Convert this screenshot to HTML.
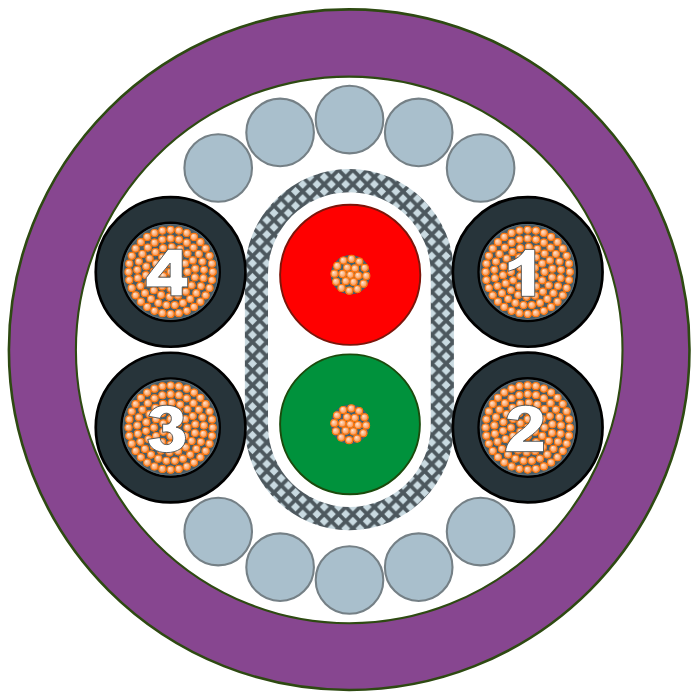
<!DOCTYPE html><html><head><meta charset="utf-8"><style>html,body{margin:0;padding:0;background:#fff}svg{display:block}</style></head><body>
<svg width="699" height="700" viewBox="0 0 699 700">
<defs>
<radialGradient id="ball" cx="0.46" cy="0.44" r="0.58" fx="0.34" fy="0.30">
<stop offset="0" stop-color="#fff0e2"/><stop offset="0.22" stop-color="#fed4b4"/><stop offset="0.6" stop-color="#fcb686"/><stop offset="0.9" stop-color="#fb9c58"/><stop offset="1" stop-color="#f98632"/>
</radialGradient>
<g id="b"><circle r="4.1" fill="#ff8a22"/><circle r="3.78" fill="#f96c00"/><circle r="3.15" fill="url(#ball)"/></g>
<pattern id="hatch" patternUnits="userSpaceOnUse" x="245.33" y="270.33" width="14.34" height="14.34">
<rect width="14.34" height="14.34" fill="#4d585e"/>
<path fill="#c9dae1" d="M2.67,7.17 L7.17,2.67 L11.67,7.17 L7.17,11.67Z M-4.5,0 L0,-4.5 L4.5,0 L0,4.5Z M9.84,0 L14.34,-4.5 L18.84,0 L14.34,4.5Z M-4.5,14.34 L0,9.84 L4.5,14.34 L0,18.84Z M9.84,14.34 L14.34,9.84 L18.84,14.34 L14.34,18.84Z"/>
</pattern>
</defs>
<rect width="699" height="700" fill="#fff"/>
<circle cx="349.2" cy="349.7" r="340.3" fill="#874690" stroke="#2e4a12" stroke-width="2.6"/>
<circle cx="349.2" cy="349.9" r="273.3" fill="#fff" stroke="#2e4a12" stroke-width="2.1"/>
<circle cx="218.2" cy="168.0" r="33.8" fill="#a9bfcc" stroke="#758086" stroke-width="2.1"/>
<circle cx="218.2" cy="531.6" r="33.8" fill="#a9bfcc" stroke="#758086" stroke-width="2.1"/>
<circle cx="480.6" cy="168.0" r="33.8" fill="#a9bfcc" stroke="#758086" stroke-width="2.1"/>
<circle cx="480.6" cy="531.6" r="33.8" fill="#a9bfcc" stroke="#758086" stroke-width="2.1"/>
<circle cx="280.1" cy="132.4" r="33.8" fill="#a9bfcc" stroke="#758086" stroke-width="2.1"/>
<circle cx="280.1" cy="567.2" r="33.8" fill="#a9bfcc" stroke="#758086" stroke-width="2.1"/>
<circle cx="418.7" cy="132.4" r="33.8" fill="#a9bfcc" stroke="#758086" stroke-width="2.1"/>
<circle cx="418.7" cy="567.2" r="33.8" fill="#a9bfcc" stroke="#758086" stroke-width="2.1"/>
<circle cx="349.5" cy="119.6" r="33.8" fill="#a9bfcc" stroke="#758086" stroke-width="2.1"/>
<circle cx="349.5" cy="580.0" r="33.8" fill="#a9bfcc" stroke="#758086" stroke-width="2.1"/>
<path d="M244.89999999999998,273.6 A104.5,104.5 0 0 1 453.9,273.6 L453.9,425.7 A104.5,104.5 0 0 1 244.89999999999998,425.7 Z M268.0,273.6 A81.4,81.4 0 0 1 430.79999999999995,273.6 L430.79999999999995,425.7 A81.4,81.4 0 0 1 268.0,425.7 Z" fill-rule="evenodd" fill="url(#hatch)"/>
<circle cx="350.2" cy="274.8" r="70.1" fill="#ff0000" stroke="#7c150a" stroke-width="1.9"/>
<circle cx="350.4" cy="274.8" r="19.7" fill="#3f5f70"/>
<g>
<use href="#b" x="350.40" y="274.80"/>
<use href="#b" x="358.26" y="275.63"/>
<use href="#b" x="353.61" y="282.02"/>
<use href="#b" x="345.76" y="281.19"/>
<use href="#b" x="342.54" y="273.97"/>
<use href="#b" x="347.19" y="267.58"/>
<use href="#b" x="355.04" y="268.41"/>
<use href="#b" x="366.26" y="275.91"/>
<use href="#b" x="363.58" y="283.69"/>
<use href="#b" x="357.37" y="289.09"/>
<use href="#b" x="349.29" y="290.66"/>
<use href="#b" x="341.51" y="287.98"/>
<use href="#b" x="336.11" y="281.77"/>
<use href="#b" x="334.54" y="273.69"/>
<use href="#b" x="337.22" y="265.91"/>
<use href="#b" x="343.43" y="260.51"/>
<use href="#b" x="351.51" y="258.94"/>
<use href="#b" x="359.29" y="261.62"/>
<use href="#b" x="364.69" y="267.83"/>
</g>
<circle cx="350.0" cy="424.3" r="69.9" fill="#00923c" stroke="#1b4a0c" stroke-width="1.9"/>
<circle cx="350.2" cy="424.3" r="19.7" fill="#3f5f70"/>
<g>
<use href="#b" x="350.20" y="424.30"/>
<use href="#b" x="358.06" y="425.13"/>
<use href="#b" x="353.41" y="431.52"/>
<use href="#b" x="345.56" y="430.69"/>
<use href="#b" x="342.34" y="423.47"/>
<use href="#b" x="346.99" y="417.08"/>
<use href="#b" x="354.84" y="417.91"/>
<use href="#b" x="366.06" y="425.41"/>
<use href="#b" x="363.38" y="433.19"/>
<use href="#b" x="357.17" y="438.59"/>
<use href="#b" x="349.09" y="440.16"/>
<use href="#b" x="341.31" y="437.48"/>
<use href="#b" x="335.91" y="431.27"/>
<use href="#b" x="334.34" y="423.19"/>
<use href="#b" x="337.02" y="415.41"/>
<use href="#b" x="343.23" y="410.01"/>
<use href="#b" x="351.31" y="408.44"/>
<use href="#b" x="359.09" y="411.12"/>
<use href="#b" x="364.49" y="417.33"/>
</g>
<circle cx="527.7" cy="271.9" r="74.85" fill="#27343a" stroke="#000" stroke-width="2.7"/>
<circle cx="527.7" cy="271.9" r="49.1" fill="#475b66" stroke="#000" stroke-width="2.6"/>
<circle cx="527.7" cy="271.9" r="47.4" fill="none" stroke="#5c6c75" stroke-width="1.2"/>
<g>
<use href="#b" x="527.70" y="271.90"/>
<use href="#b" x="527.70" y="263.50"/>
<use href="#b" x="534.97" y="267.70"/>
<use href="#b" x="534.97" y="276.10"/>
<use href="#b" x="527.70" y="280.30"/>
<use href="#b" x="520.43" y="276.10"/>
<use href="#b" x="520.43" y="267.70"/>
<use href="#b" x="527.70" y="255.10"/>
<use href="#b" x="536.10" y="257.35"/>
<use href="#b" x="542.25" y="263.50"/>
<use href="#b" x="544.50" y="271.90"/>
<use href="#b" x="542.25" y="280.30"/>
<use href="#b" x="536.10" y="286.45"/>
<use href="#b" x="527.70" y="288.70"/>
<use href="#b" x="519.30" y="286.45"/>
<use href="#b" x="513.15" y="280.30"/>
<use href="#b" x="510.90" y="271.90"/>
<use href="#b" x="513.15" y="263.50"/>
<use href="#b" x="519.30" y="257.35"/>
<use href="#b" x="528.79" y="247.02"/>
<use href="#b" x="537.23" y="248.90"/>
<use href="#b" x="544.52" y="253.54"/>
<use href="#b" x="549.79" y="260.40"/>
<use href="#b" x="552.39" y="268.65"/>
<use href="#b" x="552.01" y="277.29"/>
<use href="#b" x="548.70" y="285.28"/>
<use href="#b" x="542.86" y="291.65"/>
<use href="#b" x="535.19" y="295.65"/>
<use href="#b" x="526.61" y="296.78"/>
<use href="#b" x="518.17" y="294.90"/>
<use href="#b" x="510.88" y="290.26"/>
<use href="#b" x="505.61" y="283.40"/>
<use href="#b" x="503.01" y="275.15"/>
<use href="#b" x="503.39" y="266.51"/>
<use href="#b" x="506.70" y="258.52"/>
<use href="#b" x="512.54" y="252.15"/>
<use href="#b" x="520.21" y="248.15"/>
<use href="#b" x="527.70" y="238.50"/>
<use href="#b" x="536.01" y="239.55"/>
<use href="#b" x="543.79" y="242.63"/>
<use href="#b" x="550.56" y="247.55"/>
<use href="#b" x="555.90" y="254.00"/>
<use href="#b" x="559.47" y="261.58"/>
<use href="#b" x="561.03" y="269.80"/>
<use href="#b" x="560.51" y="278.16"/>
<use href="#b" x="557.92" y="286.12"/>
<use href="#b" x="553.44" y="293.19"/>
<use href="#b" x="547.33" y="298.92"/>
<use href="#b" x="540.00" y="302.95"/>
<use href="#b" x="531.89" y="305.04"/>
<use href="#b" x="523.51" y="305.04"/>
<use href="#b" x="515.40" y="302.95"/>
<use href="#b" x="508.07" y="298.92"/>
<use href="#b" x="501.96" y="293.19"/>
<use href="#b" x="497.48" y="286.12"/>
<use href="#b" x="494.89" y="278.16"/>
<use href="#b" x="494.37" y="269.80"/>
<use href="#b" x="495.93" y="261.58"/>
<use href="#b" x="499.50" y="254.00"/>
<use href="#b" x="504.84" y="247.55"/>
<use href="#b" x="511.61" y="242.63"/>
<use href="#b" x="519.39" y="239.55"/>
<use href="#b" x="527.70" y="229.80"/>
<use href="#b" x="535.91" y="230.61"/>
<use href="#b" x="543.81" y="233.00"/>
<use href="#b" x="551.09" y="236.90"/>
<use href="#b" x="557.47" y="242.13"/>
<use href="#b" x="562.70" y="248.51"/>
<use href="#b" x="566.60" y="255.79"/>
<use href="#b" x="568.99" y="263.69"/>
<use href="#b" x="569.80" y="271.90"/>
<use href="#b" x="568.99" y="280.11"/>
<use href="#b" x="566.60" y="288.01"/>
<use href="#b" x="562.70" y="295.29"/>
<use href="#b" x="557.47" y="301.67"/>
<use href="#b" x="551.09" y="306.90"/>
<use href="#b" x="543.81" y="310.80"/>
<use href="#b" x="535.91" y="313.19"/>
<use href="#b" x="527.70" y="314.00"/>
<use href="#b" x="519.49" y="313.19"/>
<use href="#b" x="511.59" y="310.80"/>
<use href="#b" x="504.31" y="306.90"/>
<use href="#b" x="497.93" y="301.67"/>
<use href="#b" x="492.70" y="295.29"/>
<use href="#b" x="488.80" y="288.01"/>
<use href="#b" x="486.41" y="280.11"/>
<use href="#b" x="485.60" y="271.90"/>
<use href="#b" x="486.41" y="263.69"/>
<use href="#b" x="488.80" y="255.79"/>
<use href="#b" x="492.70" y="248.51"/>
<use href="#b" x="497.93" y="242.13"/>
<use href="#b" x="504.31" y="236.90"/>
<use href="#b" x="511.59" y="233.00"/>
<use href="#b" x="519.49" y="230.61"/>
</g>
<path transform="translate(494,240) scale(0.09434)" d="M330,100 L432,100 L432,597 L290,597 L290,268 Q225,315 150,332 L150,236 Q275,195 330,100 Z" fill="#fff" stroke="#3c474d" stroke-width="9" stroke-linejoin="miter" fill-rule="evenodd"/>
<circle cx="527.7" cy="427.5" r="74.85" fill="#27343a" stroke="#000" stroke-width="2.7"/>
<circle cx="527.7" cy="427.5" r="49.1" fill="#475b66" stroke="#000" stroke-width="2.6"/>
<circle cx="527.7" cy="427.5" r="47.4" fill="none" stroke="#5c6c75" stroke-width="1.2"/>
<g>
<use href="#b" x="527.70" y="427.50"/>
<use href="#b" x="527.70" y="419.10"/>
<use href="#b" x="534.97" y="423.30"/>
<use href="#b" x="534.97" y="431.70"/>
<use href="#b" x="527.70" y="435.90"/>
<use href="#b" x="520.43" y="431.70"/>
<use href="#b" x="520.43" y="423.30"/>
<use href="#b" x="527.70" y="410.70"/>
<use href="#b" x="536.10" y="412.95"/>
<use href="#b" x="542.25" y="419.10"/>
<use href="#b" x="544.50" y="427.50"/>
<use href="#b" x="542.25" y="435.90"/>
<use href="#b" x="536.10" y="442.05"/>
<use href="#b" x="527.70" y="444.30"/>
<use href="#b" x="519.30" y="442.05"/>
<use href="#b" x="513.15" y="435.90"/>
<use href="#b" x="510.90" y="427.50"/>
<use href="#b" x="513.15" y="419.10"/>
<use href="#b" x="519.30" y="412.95"/>
<use href="#b" x="528.79" y="402.62"/>
<use href="#b" x="537.23" y="404.50"/>
<use href="#b" x="544.52" y="409.14"/>
<use href="#b" x="549.79" y="416.00"/>
<use href="#b" x="552.39" y="424.25"/>
<use href="#b" x="552.01" y="432.89"/>
<use href="#b" x="548.70" y="440.88"/>
<use href="#b" x="542.86" y="447.25"/>
<use href="#b" x="535.19" y="451.25"/>
<use href="#b" x="526.61" y="452.38"/>
<use href="#b" x="518.17" y="450.50"/>
<use href="#b" x="510.88" y="445.86"/>
<use href="#b" x="505.61" y="439.00"/>
<use href="#b" x="503.01" y="430.75"/>
<use href="#b" x="503.39" y="422.11"/>
<use href="#b" x="506.70" y="414.12"/>
<use href="#b" x="512.54" y="407.75"/>
<use href="#b" x="520.21" y="403.75"/>
<use href="#b" x="527.70" y="394.10"/>
<use href="#b" x="536.01" y="395.15"/>
<use href="#b" x="543.79" y="398.23"/>
<use href="#b" x="550.56" y="403.15"/>
<use href="#b" x="555.90" y="409.60"/>
<use href="#b" x="559.47" y="417.18"/>
<use href="#b" x="561.03" y="425.40"/>
<use href="#b" x="560.51" y="433.76"/>
<use href="#b" x="557.92" y="441.72"/>
<use href="#b" x="553.44" y="448.79"/>
<use href="#b" x="547.33" y="454.52"/>
<use href="#b" x="540.00" y="458.55"/>
<use href="#b" x="531.89" y="460.64"/>
<use href="#b" x="523.51" y="460.64"/>
<use href="#b" x="515.40" y="458.55"/>
<use href="#b" x="508.07" y="454.52"/>
<use href="#b" x="501.96" y="448.79"/>
<use href="#b" x="497.48" y="441.72"/>
<use href="#b" x="494.89" y="433.76"/>
<use href="#b" x="494.37" y="425.40"/>
<use href="#b" x="495.93" y="417.18"/>
<use href="#b" x="499.50" y="409.60"/>
<use href="#b" x="504.84" y="403.15"/>
<use href="#b" x="511.61" y="398.23"/>
<use href="#b" x="519.39" y="395.15"/>
<use href="#b" x="527.70" y="385.40"/>
<use href="#b" x="535.91" y="386.21"/>
<use href="#b" x="543.81" y="388.60"/>
<use href="#b" x="551.09" y="392.50"/>
<use href="#b" x="557.47" y="397.73"/>
<use href="#b" x="562.70" y="404.11"/>
<use href="#b" x="566.60" y="411.39"/>
<use href="#b" x="568.99" y="419.29"/>
<use href="#b" x="569.80" y="427.50"/>
<use href="#b" x="568.99" y="435.71"/>
<use href="#b" x="566.60" y="443.61"/>
<use href="#b" x="562.70" y="450.89"/>
<use href="#b" x="557.47" y="457.27"/>
<use href="#b" x="551.09" y="462.50"/>
<use href="#b" x="543.81" y="466.40"/>
<use href="#b" x="535.91" y="468.79"/>
<use href="#b" x="527.70" y="469.60"/>
<use href="#b" x="519.49" y="468.79"/>
<use href="#b" x="511.59" y="466.40"/>
<use href="#b" x="504.31" y="462.50"/>
<use href="#b" x="497.93" y="457.27"/>
<use href="#b" x="492.70" y="450.89"/>
<use href="#b" x="488.80" y="443.61"/>
<use href="#b" x="486.41" y="435.71"/>
<use href="#b" x="485.60" y="427.50"/>
<use href="#b" x="486.41" y="419.29"/>
<use href="#b" x="488.80" y="411.39"/>
<use href="#b" x="492.70" y="404.11"/>
<use href="#b" x="497.93" y="397.73"/>
<use href="#b" x="504.31" y="392.50"/>
<use href="#b" x="511.59" y="388.60"/>
<use href="#b" x="519.49" y="386.21"/>
</g>
<path transform="translate(494,396) scale(0.09434)" d="M135,245 C150,150 230,98 335,98 C450,98 520,150 520,235 C520,320 460,375 310,480 L525,480 L525,590 L122,590 C130,500 185,440 290,360 C350,315 385,280 385,238 C385,202 365,182 330,182 C290,182 265,205 258,258 Z" fill="#fff" stroke="#3c474d" stroke-width="9" stroke-linejoin="miter" fill-rule="evenodd"/>
<circle cx="170.6" cy="427.6" r="74.85" fill="#27343a" stroke="#000" stroke-width="2.7"/>
<circle cx="170.6" cy="427.6" r="49.1" fill="#475b66" stroke="#000" stroke-width="2.6"/>
<circle cx="170.6" cy="427.6" r="47.4" fill="none" stroke="#5c6c75" stroke-width="1.2"/>
<g>
<use href="#b" x="170.60" y="427.60"/>
<use href="#b" x="170.60" y="419.20"/>
<use href="#b" x="177.87" y="423.40"/>
<use href="#b" x="177.87" y="431.80"/>
<use href="#b" x="170.60" y="436.00"/>
<use href="#b" x="163.33" y="431.80"/>
<use href="#b" x="163.33" y="423.40"/>
<use href="#b" x="170.60" y="410.80"/>
<use href="#b" x="179.00" y="413.05"/>
<use href="#b" x="185.15" y="419.20"/>
<use href="#b" x="187.40" y="427.60"/>
<use href="#b" x="185.15" y="436.00"/>
<use href="#b" x="179.00" y="442.15"/>
<use href="#b" x="170.60" y="444.40"/>
<use href="#b" x="162.20" y="442.15"/>
<use href="#b" x="156.05" y="436.00"/>
<use href="#b" x="153.80" y="427.60"/>
<use href="#b" x="156.05" y="419.20"/>
<use href="#b" x="162.20" y="413.05"/>
<use href="#b" x="171.69" y="402.72"/>
<use href="#b" x="180.13" y="404.60"/>
<use href="#b" x="187.42" y="409.24"/>
<use href="#b" x="192.69" y="416.10"/>
<use href="#b" x="195.29" y="424.35"/>
<use href="#b" x="194.91" y="432.99"/>
<use href="#b" x="191.60" y="440.98"/>
<use href="#b" x="185.76" y="447.35"/>
<use href="#b" x="178.09" y="451.35"/>
<use href="#b" x="169.51" y="452.48"/>
<use href="#b" x="161.07" y="450.60"/>
<use href="#b" x="153.78" y="445.96"/>
<use href="#b" x="148.51" y="439.10"/>
<use href="#b" x="145.91" y="430.85"/>
<use href="#b" x="146.29" y="422.21"/>
<use href="#b" x="149.60" y="414.22"/>
<use href="#b" x="155.44" y="407.85"/>
<use href="#b" x="163.11" y="403.85"/>
<use href="#b" x="170.60" y="394.20"/>
<use href="#b" x="178.91" y="395.25"/>
<use href="#b" x="186.69" y="398.33"/>
<use href="#b" x="193.46" y="403.25"/>
<use href="#b" x="198.80" y="409.70"/>
<use href="#b" x="202.37" y="417.28"/>
<use href="#b" x="203.93" y="425.50"/>
<use href="#b" x="203.41" y="433.86"/>
<use href="#b" x="200.82" y="441.82"/>
<use href="#b" x="196.34" y="448.89"/>
<use href="#b" x="190.23" y="454.62"/>
<use href="#b" x="182.90" y="458.65"/>
<use href="#b" x="174.79" y="460.74"/>
<use href="#b" x="166.41" y="460.74"/>
<use href="#b" x="158.30" y="458.65"/>
<use href="#b" x="150.97" y="454.62"/>
<use href="#b" x="144.86" y="448.89"/>
<use href="#b" x="140.38" y="441.82"/>
<use href="#b" x="137.79" y="433.86"/>
<use href="#b" x="137.27" y="425.50"/>
<use href="#b" x="138.83" y="417.28"/>
<use href="#b" x="142.40" y="409.70"/>
<use href="#b" x="147.74" y="403.25"/>
<use href="#b" x="154.51" y="398.33"/>
<use href="#b" x="162.29" y="395.25"/>
<use href="#b" x="170.60" y="385.50"/>
<use href="#b" x="178.81" y="386.31"/>
<use href="#b" x="186.71" y="388.70"/>
<use href="#b" x="193.99" y="392.60"/>
<use href="#b" x="200.37" y="397.83"/>
<use href="#b" x="205.60" y="404.21"/>
<use href="#b" x="209.50" y="411.49"/>
<use href="#b" x="211.89" y="419.39"/>
<use href="#b" x="212.70" y="427.60"/>
<use href="#b" x="211.89" y="435.81"/>
<use href="#b" x="209.50" y="443.71"/>
<use href="#b" x="205.60" y="450.99"/>
<use href="#b" x="200.37" y="457.37"/>
<use href="#b" x="193.99" y="462.60"/>
<use href="#b" x="186.71" y="466.50"/>
<use href="#b" x="178.81" y="468.89"/>
<use href="#b" x="170.60" y="469.70"/>
<use href="#b" x="162.39" y="468.89"/>
<use href="#b" x="154.49" y="466.50"/>
<use href="#b" x="147.21" y="462.60"/>
<use href="#b" x="140.83" y="457.37"/>
<use href="#b" x="135.60" y="450.99"/>
<use href="#b" x="131.70" y="443.71"/>
<use href="#b" x="129.31" y="435.81"/>
<use href="#b" x="128.50" y="427.60"/>
<use href="#b" x="129.31" y="419.39"/>
<use href="#b" x="131.70" y="411.49"/>
<use href="#b" x="135.60" y="404.21"/>
<use href="#b" x="140.83" y="397.83"/>
<use href="#b" x="147.21" y="392.60"/>
<use href="#b" x="154.49" y="388.70"/>
<use href="#b" x="162.39" y="386.31"/>
</g>
<path transform="translate(136,396) scale(0.09434)" d="M135,215 C160,140 225,98 320,98 C430,98 500,150 500,225 C500,280 470,315 425,330 C490,345 525,390 525,450 C525,545 440,600 325,600 C215,600 140,550 125,460 L255,440 C262,490 285,515 325,515 C365,515 390,490 390,450 C390,405 365,380 320,380 L282,385 L282,298 L320,300 C355,300 375,275 375,240 C375,205 355,182 322,182 C285,182 265,205 258,238 Z" fill="#fff" stroke="#3c474d" stroke-width="9" stroke-linejoin="miter" fill-rule="evenodd"/>
<circle cx="170.6" cy="271.9" r="74.85" fill="#27343a" stroke="#000" stroke-width="2.7"/>
<circle cx="170.6" cy="271.9" r="49.1" fill="#475b66" stroke="#000" stroke-width="2.6"/>
<circle cx="170.6" cy="271.9" r="47.4" fill="none" stroke="#5c6c75" stroke-width="1.2"/>
<g>
<use href="#b" x="170.60" y="271.90"/>
<use href="#b" x="170.60" y="263.50"/>
<use href="#b" x="177.87" y="267.70"/>
<use href="#b" x="177.87" y="276.10"/>
<use href="#b" x="170.60" y="280.30"/>
<use href="#b" x="163.33" y="276.10"/>
<use href="#b" x="163.33" y="267.70"/>
<use href="#b" x="170.60" y="255.10"/>
<use href="#b" x="179.00" y="257.35"/>
<use href="#b" x="185.15" y="263.50"/>
<use href="#b" x="187.40" y="271.90"/>
<use href="#b" x="185.15" y="280.30"/>
<use href="#b" x="179.00" y="286.45"/>
<use href="#b" x="170.60" y="288.70"/>
<use href="#b" x="162.20" y="286.45"/>
<use href="#b" x="156.05" y="280.30"/>
<use href="#b" x="153.80" y="271.90"/>
<use href="#b" x="156.05" y="263.50"/>
<use href="#b" x="162.20" y="257.35"/>
<use href="#b" x="171.69" y="247.02"/>
<use href="#b" x="180.13" y="248.90"/>
<use href="#b" x="187.42" y="253.54"/>
<use href="#b" x="192.69" y="260.40"/>
<use href="#b" x="195.29" y="268.65"/>
<use href="#b" x="194.91" y="277.29"/>
<use href="#b" x="191.60" y="285.28"/>
<use href="#b" x="185.76" y="291.65"/>
<use href="#b" x="178.09" y="295.65"/>
<use href="#b" x="169.51" y="296.78"/>
<use href="#b" x="161.07" y="294.90"/>
<use href="#b" x="153.78" y="290.26"/>
<use href="#b" x="148.51" y="283.40"/>
<use href="#b" x="145.91" y="275.15"/>
<use href="#b" x="146.29" y="266.51"/>
<use href="#b" x="149.60" y="258.52"/>
<use href="#b" x="155.44" y="252.15"/>
<use href="#b" x="163.11" y="248.15"/>
<use href="#b" x="170.60" y="238.50"/>
<use href="#b" x="178.91" y="239.55"/>
<use href="#b" x="186.69" y="242.63"/>
<use href="#b" x="193.46" y="247.55"/>
<use href="#b" x="198.80" y="254.00"/>
<use href="#b" x="202.37" y="261.58"/>
<use href="#b" x="203.93" y="269.80"/>
<use href="#b" x="203.41" y="278.16"/>
<use href="#b" x="200.82" y="286.12"/>
<use href="#b" x="196.34" y="293.19"/>
<use href="#b" x="190.23" y="298.92"/>
<use href="#b" x="182.90" y="302.95"/>
<use href="#b" x="174.79" y="305.04"/>
<use href="#b" x="166.41" y="305.04"/>
<use href="#b" x="158.30" y="302.95"/>
<use href="#b" x="150.97" y="298.92"/>
<use href="#b" x="144.86" y="293.19"/>
<use href="#b" x="140.38" y="286.12"/>
<use href="#b" x="137.79" y="278.16"/>
<use href="#b" x="137.27" y="269.80"/>
<use href="#b" x="138.83" y="261.58"/>
<use href="#b" x="142.40" y="254.00"/>
<use href="#b" x="147.74" y="247.55"/>
<use href="#b" x="154.51" y="242.63"/>
<use href="#b" x="162.29" y="239.55"/>
<use href="#b" x="170.60" y="229.80"/>
<use href="#b" x="178.81" y="230.61"/>
<use href="#b" x="186.71" y="233.00"/>
<use href="#b" x="193.99" y="236.90"/>
<use href="#b" x="200.37" y="242.13"/>
<use href="#b" x="205.60" y="248.51"/>
<use href="#b" x="209.50" y="255.79"/>
<use href="#b" x="211.89" y="263.69"/>
<use href="#b" x="212.70" y="271.90"/>
<use href="#b" x="211.89" y="280.11"/>
<use href="#b" x="209.50" y="288.01"/>
<use href="#b" x="205.60" y="295.29"/>
<use href="#b" x="200.37" y="301.67"/>
<use href="#b" x="193.99" y="306.90"/>
<use href="#b" x="186.71" y="310.80"/>
<use href="#b" x="178.81" y="313.19"/>
<use href="#b" x="170.60" y="314.00"/>
<use href="#b" x="162.39" y="313.19"/>
<use href="#b" x="154.49" y="310.80"/>
<use href="#b" x="147.21" y="306.90"/>
<use href="#b" x="140.83" y="301.67"/>
<use href="#b" x="135.60" y="295.29"/>
<use href="#b" x="131.70" y="288.01"/>
<use href="#b" x="129.31" y="280.11"/>
<use href="#b" x="128.50" y="271.90"/>
<use href="#b" x="129.31" y="263.69"/>
<use href="#b" x="131.70" y="255.79"/>
<use href="#b" x="135.60" y="248.51"/>
<use href="#b" x="140.83" y="242.13"/>
<use href="#b" x="147.21" y="236.90"/>
<use href="#b" x="154.49" y="233.00"/>
<use href="#b" x="162.39" y="230.61"/>
</g>
<path transform="translate(136,240) scale(0.09434)" d="M340,98 L490,98 L490,395 L548,395 L548,497 L490,497 L490,592 L370,592 L370,497 L108,497 L108,400 Z M362,245 L362,395 L238,395 Z" fill="#fff" stroke="#3c474d" stroke-width="9" stroke-linejoin="miter" fill-rule="evenodd"/>
</svg></body></html>
